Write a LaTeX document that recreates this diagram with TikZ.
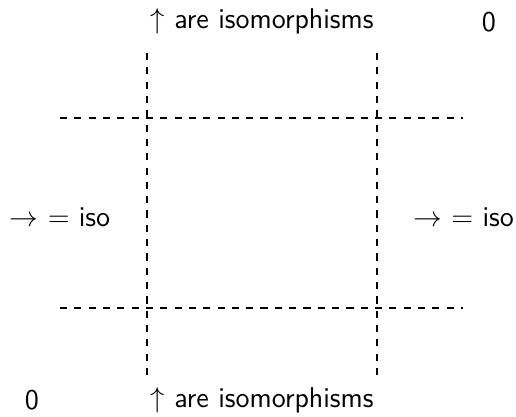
\documentclass[tikz,border=0pt]{standalone}
\usepackage{amsmath,amssymb}
\usetikzlibrary{positioning}
\tikzset{
  cutline/.style={dashed,thick},
  lbl/.style={font=\sffamily\large,inner sep=0pt}
}
\begin{document}
\begin{tikzpicture}[x=1cm,y=1cm]
  \useasboundingbox (0,0) rectangle (7.6,6.14);
  % the two vertical and two horizontal cuts
  \coordinate (vlt) at (2.165,5.36); \coordinate (vlb) at (2.165,0.545);
  \coordinate (vrt) at (5.55,5.36);  \coordinate (vrb) at (5.55,0.545);
  \coordinate (hul) at (0.884,4.40); \coordinate (hur) at (6.82,4.40);
  \coordinate (hll) at (0.884,1.605); \coordinate (hlr) at (6.82,1.605);
  \draw[cutline] (vlt) -- (vlb);
  \draw[cutline] (vrt) -- (vrb);
  \draw[cutline] (hul) -- (hur);
  \draw[cutline] (hll) -- (hlr);

  \node[lbl] (topiso) at (3.86,5.82) {$\uparrow$ are isomorphisms};
  \node[lbl] (topzero) at (7.2,5.82) {0};
  \node[lbl] (leftiso) at (0.884,2.945) {$\to$ $=$ iso};
  \node[lbl] (rightiso) at (6.83,2.945) {$\to$ $=$ iso};
  \node[lbl] (botzero) at (0.47,0.25) {0};
  \node[lbl] (botiso) at (3.86,0.25) {$\uparrow$ are isomorphisms};
\end{tikzpicture}
\end{document}
